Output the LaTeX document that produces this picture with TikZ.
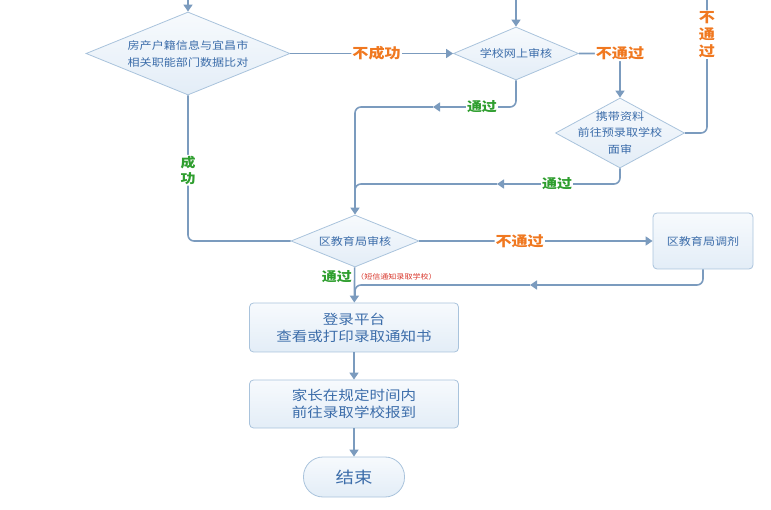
\documentclass[tikz,border=0pt]{standalone}
\usepackage{fontspec}
\setmainfont[FakeStretch=1.15]{Noto Sans CJK SC}
\usetikzlibrary{arrows.meta,shapes.geometric}
\definecolor{flowline}{HTML}{7B9BBE}
\definecolor{shapeline}{HTML}{A9C3DC}
\definecolor{shapetop}{HTML}{F7FAFD}
\definecolor{shapebot}{HTML}{E3EDF7}
\definecolor{shapetext}{HTML}{3C6DAA}
\definecolor{failtext}{HTML}{F07820}
\definecolor{passtext}{HTML}{2E9E2E}
\definecolor{notetext}{HTML}{D8352A}
\begin{document}
\begin{tikzpicture}[x=1pt,y=-1pt,>={Triangle[width=9pt,length=7pt]},
 flow/.style={draw=flowline,line width=1.6pt,rounded corners=6pt},
 decision/.style={diamond,draw=shapeline,line width=0.8pt,top color=shapetop,bottom color=shapebot,
   inner sep=0pt,text=shapetext,align=center,font=\fontsize{10.5}{17}\selectfont},
 box/.style={rectangle,rounded corners=4pt,draw=shapeline,line width=0.8pt,top color=shapetop,
   bottom color=shapebot,text=shapetext,align=center},
 fail/.style={text=failtext,font=\bfseries\fontsize{14}{17}\selectfont,fill=white,inner sep=1pt,align=center},
 pass/.style={text=passtext,font=\bfseries\fontsize{13}{16}\selectfont,fill=white,inner sep=1pt,align=center}]
\useasboundingbox (0,0) rectangle (771,510);
% 判断
\node[decision,minimum width=204pt,minimum height=83pt,aspect=2.46] (check) at (188,53.5) {房产户籍信息与宜昌市\\相关职能部门数据比对};
\node[decision,minimum width=125pt,minimum height=53pt,aspect=2.36] (online) at (516,53.5) {学校网上审核};
\node[decision,minimum width=129pt,minimum height=70pt,aspect=1.84,inner sep=-9pt,font=\fontsize{10.5}{16.5}\selectfont] (visit) at (620,133) {携带资料\\前往预录取学校\\面审};
\node[decision,minimum width=128pt,minimum height=52pt,aspect=2.46] (bureau) at (355,241) {区教育局审核};
% 方框
\node[box,minimum width=100pt,minimum height=56pt,font=\fontsize{10.5}{17}\selectfont] (adjust) at (703,241) {区教育局调剂};
\node[box,minimum width=209pt,minimum height=49pt,font=\fontsize{13.5}{17}\selectfont] (login) at (354,327.5) {登录平台\\查看或打印录取通知书};
\node[box,minimum width=209pt,minimum height=48pt,font=\fontsize{13.5}{17}\selectfont] (report) at (354,404) {家长在规定时间内\\前往录取学校报到};
\node[box,rounded corners=19.5pt,minimum width=101pt,minimum height=40pt,font=\fontsize{16}{16}\selectfont] (finish) at (354,477) {结束};
% 连线
\coordinate (in1) at (188,0);
\coordinate (in2) at (516,0);
\coordinate (out) at (707,0);
\coordinate (back1) at (433,107);
\coordinate (back2) at (497,184);
\coordinate (join2) at (355,200);
\coordinate (back3) at (530,285);
\coordinate (join3) at (355,298);
\draw[flow,->] (in1) -- (check);
\draw[flow,->] (in2) -- (online);
\draw[flow,->] (check) -- node[fail,pos=0.53] {不成功} (online);
\draw[flow,->] (online) -| node[fail] {不通过} (visit);
\draw[flow] (visit) -| node[fail,pos=0.87] {不\\通\\过} (out);
\draw[flow,->] (online) |- node[pass,pos=0.705] {通过} (back1);
\draw[flow,->] (back1) -| (bureau);
\draw[flow,->] (visit) |- node[pass,pos=0.756] {通过} (back2);
\draw[flow] (back2) -| (join2);
\draw[flow] (check) |- node[pass,pos=0.257] {成\\功} (bureau);
\draw[flow,->] (bureau) -- node[fail,pos=0.43] {不通过} (adjust);
\draw[flow,->] (adjust) |- (back3);
\draw[flow] (back3) -| (join3);
\draw[flow,->] (bureau) -- (login);
\draw[flow,->] (login) -- (report);
\draw[flow,->] (report) -- (finish);
\node[pass,fill=none,anchor=east] (passnote) at (353,277) {通过};
\node[text=notetext,font=\fontsize{7}{7}\selectfont,anchor=west,inner sep=1pt] (smsnote) at (355,277) {（短信通知录取学校）};
\end{tikzpicture}
\end{document}
